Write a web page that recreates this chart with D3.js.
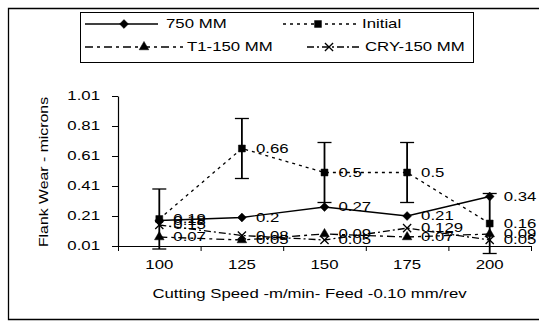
<!DOCTYPE html>
<html>
<head>
<meta charset="utf-8">
<script src="https://cdn.jsdelivr.net/npm/d3@7"></script>
<style>
  html, body { margin: 0; padding: 0; background: #fff; }
  svg { display: block; font-family: "Liberation Sans", Arial, sans-serif; }
</style>
</head>
<body>
<div id="chart"></div>
<script>
// chart values
const categories = [100, 125, 150, 175, 200];
const mm750 = [0.18, 0.2, 0.27, 0.21, 0.34];
const initial = [0.19, 0.66, 0.5, 0.5, 0.16];
const initialErr = [0.2, 0.2, 0.2, 0.2, 0.2];
const t1 = [0.07, 0.05, 0.09, 0.07, 0.09];
const cry = [0.15, 0.08, 0.05, 0.129, 0.05];
const yTicks = [0.01, 0.21, 0.41, 0.61, 0.81, 1.01];

const W = 540, H = 323;
const SX = 1.4; // the scanned text is wide, stretch it
const margin = { top: 96, right: 9, bottom: 77, left: 118 };
const width = W - margin.left - margin.right;
const height = H - margin.top - margin.bottom;

const svg = d3.select('#chart').append('svg')
  .attr('width', W)
  .attr('height', H);

svg.append('rect').attr('width', W).attr('height', H).attr('fill', '#fff');

// outer frame (left, top, bottom)
svg.append('path')
  .attr('d', `M539,8.5H8.5V319.5H539`)
  .attr('fill', 'none')
  .attr('stroke', '#000')
  .attr('stroke-width', 1.3);

const g = svg.append('g').attr('transform', `translate(${margin.left},${margin.top})`);

const x = d3.scaleBand().domain(categories).range([0, width]).padding(0);
const xEdge = d3.scaleLinear().domain([0, categories.length]).range([0, width]);
const y = d3.scaleLinear().domain([0.01, 1.01]).range([height, 0]);
const cx = d => x(d) + x.bandwidth() / 2;

function stretch(sel, dx, dy) {
  sel.attr('transform', `translate(${dx},${dy}) scale(${SX},1)`).attr('x', 0).attr('y', 0);
}

// y axis
const yAxis = g.append('g')
  .call(d3.axisLeft(y).tickValues(yTicks).tickSize(6).tickSizeOuter(0).tickPadding(12)
    .tickFormat(d3.format('.2f')));
yAxis.selectAll('text').attr('font-size', 12).attr('font-family', null).attr('fill', '#000')
  .each(function () { stretch(d3.select(this), -18, 0); });
yAxis.select('.domain').attr('stroke-width', 1.2);

// x axis: boundary ticks + centered labels
g.append('g')
  .attr('transform', `translate(0,${height})`)
  .call(d3.axisBottom(xEdge).tickValues(d3.range(categories.length + 1)).tickFormat('').tickSize(5).tickSizeOuter(0))
  .select('.domain').attr('stroke-width', 1.2);

const xAxis = g.append('g')
  .attr('transform', `translate(0,${height})`)
  .call(d3.axisBottom(x).tickSize(0).tickPadding(14));
xAxis.select('.domain').remove();
xAxis.selectAll('text').attr('font-size', 12).attr('font-family', null).attr('fill', '#000')
  .each(function () { stretch(d3.select(this), 0, 14); });

// axis titles
svg.append('text')
  .attr('text-anchor', 'middle')
  .attr('font-size', 12)
  .attr('transform', `translate(${margin.left + width / 2 - 15},298) scale(${SX},1)`)
  .text('Cutting Speed -m/min- Feed -0.10 mm/rev');

svg.append('text')
  .attr('text-anchor', 'middle')
  .attr('font-size', 12)
  .attr('transform', `translate(48,172) rotate(-90) scale(1.32,1)`)
  .text('Flank Wear - microns');

// marker shapes
const symDiamond = d3.symbol().type(d3.symbolDiamond2).size(50);
const symSquare = d3.symbol().type(d3.symbolSquare).size(48);
const symTri = d3.symbol().type(d3.symbolTriangle).size(40);
const symX = d3.symbol().type(d3.symbolTimes).size(45);

const series = [
  { name: '750 MM', values: mm750, dash: null, sym: symDiamond, filled: true },
  { name: 'Initial', values: initial, dash: '3,4', sym: symSquare, filled: true },
  { name: 'T1-150 MM', values: t1, dash: '8,4,3,4', sym: symTri, filled: true },
  { name: 'CRY-150 MM', values: cry, dash: '7,3,2,3', sym: symX, filled: false }
];

const line = d3.line().x(d => cx(d.c)).y(d => y(d.v));

series.forEach(s => {
  const pts = categories.map((c, i) => ({ c, v: s.values[i] }));
  g.append('path')
    .datum(pts)
    .attr('d', line)
    .attr('fill', 'none')
    .attr('stroke', '#000')
    .attr('stroke-width', 1.3)
    .attr('stroke-dasharray', s.dash);
});

// error bars on Initial
const errPts = categories.map((c, i) => ({ c, v: initial[i], e: initialErr[i] }));
const eb = g.selectAll('.err').data(errPts).enter().append('g').attr('class', 'err');
eb.append('line')
  .attr('x1', d => cx(d.c)).attr('x2', d => cx(d.c))
  .attr('y1', d => y(d.v + d.e)).attr('y2', d => y(d.v - d.e))
  .attr('stroke', '#000').attr('stroke-width', 1.8);
[1, -1].forEach(sign => {
  eb.append('line')
    .attr('x1', d => cx(d.c) - 7).attr('x2', d => cx(d.c) + 7)
    .attr('y1', d => y(d.v + sign * d.e)).attr('y2', d => y(d.v + sign * d.e))
    .attr('stroke', '#000').attr('stroke-width', 1.3);
});

// markers and value labels
series.forEach(s => {
  const pts = categories.map((c, i) => ({ c, v: s.values[i] }));
  g.selectAll(null).data(pts).enter().append('path')
    .attr('d', s.sym)
    .attr('transform', d => `translate(${cx(d.c)},${y(d.v)})`)
    .attr('fill', s.filled ? '#000' : 'none')
    .attr('stroke', '#000')
    .attr('stroke-width', s.filled ? 0.5 : 1.3);
  g.selectAll(null).data(pts).enter().append('text')
    .attr('font-size', 12)
    .attr('dy', '0.35em')
    .attr('transform', d => `translate(${cx(d.c) + 14},${y(d.v)}) scale(${SX},1)`)
    .text(d => String(d.v));
});

// legend
const legend = svg.append('g');
legend.append('rect')
  .attr('x', 80.5).attr('y', 12.5).attr('width', 393).attr('height', 50)
  .attr('fill', '#fff').attr('stroke', '#000').attr('stroke-width', 1);

const legendItems = [
  { s: series[0], x1: 85, x2: 158, mx: 124, tx: 166, ly: 24 },
  { s: series[1], x1: 283, x2: 358, mx: 318, tx: 362, ly: 24 },
  { s: series[2], x1: 85, x2: 183, mx: 144, tx: 187, ly: 47 },
  { s: series[3], x1: 307, x2: 362, mx: 329, tx: 365, ly: 47 }
];
legendItems.forEach(it => {
  legend.append('line')
    .attr('x1', it.x1).attr('x2', it.x2).attr('y1', it.ly).attr('y2', it.ly)
    .attr('stroke', '#000').attr('stroke-width', 1.3)
    .attr('stroke-dasharray', it.s.dash);
  legend.append('path')
    .attr('d', it.s.sym)
    .attr('transform', `translate(${it.mx},${it.ly})`)
    .attr('fill', it.s.filled ? '#000' : 'none')
    .attr('stroke', '#000')
    .attr('stroke-width', it.s.filled ? 0.5 : 1.3);
  legend.append('text')
    .attr('font-size', 12)
    .attr('dy', '0.35em')
    .attr('transform', `translate(${it.tx},${it.ly}) scale(${SX},1)`)
    .text(it.s.name);
});
</script>
</body>
</html>
